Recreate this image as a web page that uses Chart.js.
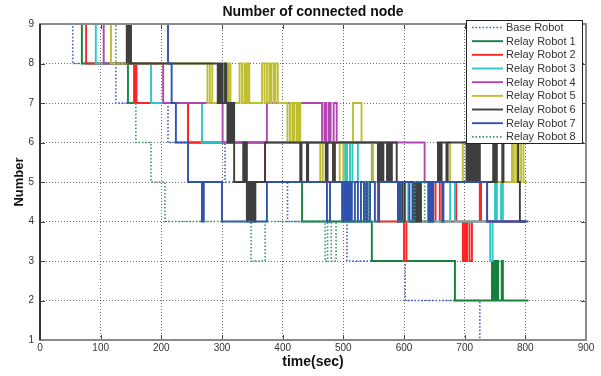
<!DOCTYPE html>
<html>
<head>
<meta charset="utf-8">
<script src="https://cdn.jsdelivr.net/npm/chart.js@4.4.1/dist/chart.umd.min.js"></script>
<style>
  body { margin: 0; background: #fff; }
  #wrap { width: 601px; height: 376px; position: relative; }
</style>
</head>
<body>
<div id="wrap"><canvas id="nodeChart"></canvas></div>
<script>
const seriesNames = ["Base Robot", "Relay Robot 1", "Relay Robot 2", "Relay Robot 3", "Relay Robot 4",
                     "Relay Robot 5", "Relay Robot 6", "Relay Robot 7", "Relay Robot 8"];

// time (sec) at which the count changes, and the new count
const baseT = [0, 54, 125, 211, 305, 408, 506, 602, 725, 803];
const baseV = [9, 8, 7, 6, 5, 4, 3, 2, 1, 1];

const r1T = [0, 69, 145, 244, 371, 432, 547, 684, 745, 747, 749, 752, 753, 755, 761, 763, 805];
const r1V = [9, 8, 7, 6, 5, 4, 3, 2, 3, 2, 3, 2, 3, 2, 3, 2, 2];

const r2T = [0, 76, 155, 156, 159, 244, 371, 557, 600, 604, 646, 648, 652, 659, 684, 686, 697, 700, 702, 704, 708, 712, 725, 727, 800];
const r2V = [9, 8, 7, 8, 7, 6, 5, 4, 3, 4, 5, 4, 5, 4, 5, 4, 3, 4, 3, 4, 3, 4, 5, 4, 4];

const r3T = [0, 92, 183, 267, 503, 506, 511, 515, 524, 547, 549, 590, 594, 598, 602, 607, 676, 684, 742, 746, 750, 753, 760, 763, 800];
const r3V = [9, 8, 7, 6, 5, 6, 5, 6, 5, 6, 5, 4, 5, 4, 5, 4, 5, 4, 3, 4, 5, 4, 5, 4, 4];

const r4T = [0, 105, 203, 301, 374, 465, 469, 472, 476, 479, 484, 489, 634, 737, 800];
const r4V = [9, 8, 7, 6, 7, 6, 7, 6, 7, 6, 7, 6, 5, 4, 4];

const r5T = [0, 117, 276, 280, 284, 304, 308, 311, 314, 329, 333, 337, 340, 342, 345,
             366, 370, 374, 378, 381, 385, 388, 392, 408, 412, 416, 419, 423, 426, 429,
             462, 466, 483, 486, 494, 500, 516, 530, 549, 671, 676, 697, 704, 778, 781, 785, 789, 793, 797, 803];
const r5V = [9, 8, 7, 8, 7, 8, 7, 8, 7, 8, 7, 8, 7, 8, 7,
             8, 7, 8, 7, 8, 7, 8, 7, 6, 7, 6, 7, 6, 7, 6,
             5, 6, 5, 6, 5, 6, 7, 6, 5, 6, 5, 6, 5, 6, 5, 6, 5, 6, 5, 5];

const r6T = [0, 143, 145, 147, 148, 150, 293, 295, 297, 299, 301, 305, 307, 309, 311, 314, 317, 320,
             335, 337, 339, 341, 343, 345, 347, 349, 351, 353, 355, 371, 429, 431, 440, 442, 471, 474, 483, 486,
             557, 560, 563, 566, 572, 575, 577, 580, 588, 590, 593, 597, 601, 614, 617, 620, 623, 626, 628,
             656, 659, 662, 670, 672, 703, 705, 707, 709, 711, 713, 716, 718, 721, 723, 725,
             747, 750, 753, 762, 764, 788, 791, 800];
const r6V = [9, 8, 9, 8, 9, 8, 7, 8, 7, 8, 7, 8, 7, 6, 7, 6, 7, 5,
             6, 5, 6, 4, 5, 4, 5, 4, 5, 4, 5, 6, 5, 6, 5, 6, 5, 6, 5, 6,
             5, 6, 5, 6, 5, 6, 5, 6, 5, 4, 5, 4, 5, 4, 5, 4, 5, 4, 5,
             6, 5, 6, 5, 6, 5, 6, 5, 6, 5, 6, 5, 6, 5, 6, 5,
             6, 5, 6, 5, 6, 5, 4, 4];

const r7T = [0, 211, 217, 224, 244, 267, 270, 300, 374, 473, 478, 498, 501, 503, 506, 508, 511, 514, 519, 524, 529,
             534, 537, 540, 544, 552, 559, 590, 593, 609, 615, 640, 643, 646, 648, 663, 665, 737, 805];
const r7V = [9, 8, 7, 6, 5, 4, 5, 4, 5, 4, 5, 4, 5, 4, 5, 4, 5, 4, 5, 4, 5,
             4, 5, 4, 5, 4, 5, 4, 5, 4, 5, 4, 5, 4, 5, 4, 5, 4, 4];

const r8T = [0, 125, 145, 158, 183, 206, 348, 371, 470, 474, 480, 488, 536, 541, 618, 634, 640];
const r8V = [9, 8, 7, 6, 5, 4, 3, 4, 3, 4, 3, 4, 5, 4, 5, 4, 4];

const xTicks = [0, 100, 200, 300, 400, 500, 600, 700, 800, 900];
const yTicks = [1, 2, 3, 4, 5, 6, 7, 8, 9];

const allT = [baseT, r1T, r2T, r3T, r4T, r5T, r6T, r7T, r8T];
const allV = [baseV, r1V, r2V, r3V, r4V, r5V, r6V, r7V, r8V];
const colors = ["#3a5cc4", "#17813c", "#ff2424", "#2ec6c6", "#b146b1", "#bebe30", "#3e3e3e", "#2f52ac", "#2f9c5c"];
const dotted = [true, false, false, false, false, false, false, false, true];

const FONT = "'Liberation Sans', Arial, sans-serif";
Chart.defaults.font.family = FONT;

const datasets = seriesNames.map((name, i) => ({
  label: name,
  data: allT[i].map((t, k) => ({ x: t, y: allV[i][k] })),
  borderColor: colors[i],
  borderWidth: dotted[i] ? 1.6 : 1.9,
  borderDash: dotted[i] ? [1.5, 2] : [],
  stepped: true,
  pointRadius: 0,
  fill: false,
  order: -i   // later robots drawn on top, like the original plot
}));

// axes box, inward ticks and the boxed legend
const matlabBox = {
  id: "matlabBox",
  afterDatasetsDraw(chart) {
    const { ctx, chartArea: a, scales } = chart;
    ctx.save();
    ctx.setLineDash([]);
    ctx.strokeStyle = "#444";
    ctx.lineWidth = 1;
    xTicks.forEach(t => {
      const x = Math.round(scales.x.getPixelForValue(t)) + 0.5;
      ctx.beginPath(); ctx.moveTo(x, a.bottom); ctx.lineTo(x, a.bottom - 5); ctx.stroke();
      ctx.beginPath(); ctx.moveTo(x, a.top); ctx.lineTo(x, a.top + 5); ctx.stroke();
    });
    yTicks.forEach(t => {
      const y = Math.round(scales.y.getPixelForValue(t)) + 0.5;
      ctx.beginPath(); ctx.moveTo(a.left, y); ctx.lineTo(a.left + 5, y); ctx.stroke();
      ctx.beginPath(); ctx.moveTo(a.right, y); ctx.lineTo(a.right - 5, y); ctx.stroke();
    });
    ctx.lineWidth = 2;
    ctx.strokeStyle = "#8a8a8a";
    ctx.strokeRect(a.left, a.top, a.right - a.left, a.bottom - a.top);
    ctx.strokeStyle = "#333";
    ctx.beginPath(); ctx.moveTo(a.left, a.top); ctx.lineTo(a.left, a.bottom); ctx.stroke();
    ctx.restore();
  },
  afterDraw(chart) {
    const ctx = chart.ctx;
    const bx = 466.5, by = 20.5, bw = 116, bh = 123;
    ctx.save();
    ctx.fillStyle = "#fff";
    ctx.fillRect(bx, by, bw, bh);
    ctx.strokeStyle = "#222";
    ctx.lineWidth = 1;
    ctx.setLineDash([]);
    ctx.strokeRect(bx, by, bw, bh);
    ctx.font = "11px " + FONT;
    ctx.textBaseline = "middle";
    chart.data.datasets.forEach((ds, i) => {
      const y = 27.5 + i * 13.67;
      ctx.strokeStyle = ds.borderColor;
      ctx.lineWidth = ds.borderWidth;
      ctx.setLineDash(ds.borderDash);
      ctx.beginPath(); ctx.moveTo(472, y); ctx.lineTo(503, y); ctx.stroke();
      ctx.fillStyle = "#333";
      ctx.fillText(ds.label, 506, y + 0.5);
    });
    ctx.restore();
  }
};

new Chart(document.getElementById("nodeChart"), {
  type: "line",
  data: { datasets: datasets },
  plugins: [matlabBox],
  options: {
    responsive: true,
    maintainAspectRatio: false,
    animation: false,
    layout: { padding: { left: 0, right: 15, top: 0, bottom: 0 } },
    plugins: {
      legend: { display: false },
      tooltip: { enabled: false },
      title: {
        display: true,
        text: "Number of connected node",
        fullSize: false,
        color: "#111",
        font: { size: 14, weight: "bold" },
        padding: { top: 3.6, bottom: 3.6 }
      }
    },
    scales: {
      x: {
        type: "linear",
        min: 0, max: 900,
        afterFit(scale) { scale.height = 36; },
        afterBuildTicks(scale) { scale.ticks = xTicks.map(v => ({ value: v })); },
        ticks: { color: "#333", font: { size: 10 }, padding: 2, maxRotation: 0 },
        grid: { color: "rgba(60,60,60,0.75)", lineWidth: 1, drawTicks: false },
        border: { display: false, dash: [1, 2] },
        title: { display: true, text: "time(sec)", color: "#111", font: { size: 14, weight: "bold" }, padding: { top: 0, bottom: 5.6 } }
      },
      y: {
        min: 1, max: 9,
        afterFit(scale) { scale.width = 40; },
        afterBuildTicks(scale) { scale.ticks = yTicks.map(v => ({ value: v })); },
        ticks: { color: "#333", font: { size: 10 }, padding: 6 },
        grid: { color: "rgba(60,60,60,0.75)", lineWidth: 1, drawTicks: false },
        border: { display: false, dash: [1, 2] },
        title: { display: true, text: "Number", color: "#111", font: { size: 13, weight: "bold" }, padding: { top: 12 } }
      }
    }
  }
});
</script>
</body>
</html>
